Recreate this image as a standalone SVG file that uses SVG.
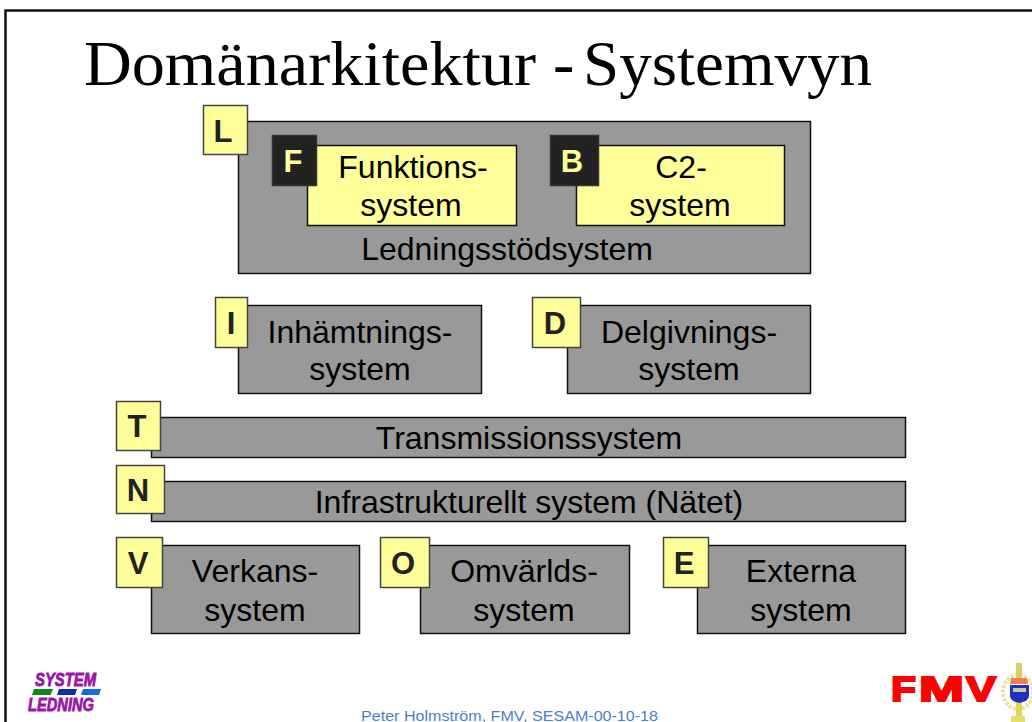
<svg xmlns="http://www.w3.org/2000/svg" width="1032" height="722" viewBox="0 0 1032 722">
<style>
.box{fill:#999;stroke:#111;stroke-width:1.5}
.yel{fill:#ffff99;stroke:#111;stroke-width:1.5}
.tag{fill:#ffff99;stroke:#444;stroke-width:1.5}
.dark{fill:#222;stroke:#333;stroke-width:1.5}
text{font-family:"Liberation Sans",Arial,sans-serif}
.t{font-size:32px;fill:#000;text-anchor:middle}
.k{font-size:31px;font-weight:bold;fill:#222;text-anchor:middle}
.kl{font-size:31px;font-weight:bold;fill:#ffff99;text-anchor:middle}
.logo{font-size:18px;font-weight:bold;font-style:italic;fill:#9a14a8;stroke:#9a14a8;stroke-width:.8}
</style>
<rect width="1032" height="722" fill="#fff"/>
<path d="M5.500 722V10.500H1032" fill="none" stroke="#111" stroke-width="2.500"/>
<text id="title" y="85" style="font-family:'Liberation Serif','Times New Roman',serif;font-size:64px"><tspan x="84" textLength="452" lengthAdjust="spacingAndGlyphs">Domänarkitektur</tspan> <tspan x="553">-</tspan> <tspan x="583" textLength="289" lengthAdjust="spacingAndGlyphs">Systemvyn</tspan></text>
<g id="node-L">
<rect class="box" x="238.500" y="121.500" width="572" height="152"/>
<text class="t" x="507" y="260">Ledningsstödsystem</text>
<rect class="tag" x="203.500" y="105.500" width="44" height="49"/>
<text class="k" x="223" y="142">L</text>
</g>
<g id="node-F">
<rect class="yel" x="307.500" y="145.500" width="209" height="80"/>
<text class="t" x="413" y="178">Funktions-</text>
<text class="t" x="411" y="216">system</text>
<rect class="dark" x="272.500" y="135.500" width="44" height="50"/>
<text class="kl" x="293" y="172">F</text>
</g>
<g id="node-B">
<rect class="yel" x="576.500" y="145.500" width="208" height="80"/>
<text class="t" x="681" y="178">C2-</text>
<text class="t" x="680" y="216">system</text>
<rect class="dark" x="550.500" y="135.500" width="48" height="50"/>
<text class="kl" x="572" y="172">B</text>
</g>
<g id="node-I">
<rect class="box" x="238.500" y="305.500" width="243" height="88"/>
<text class="t" x="360" y="343">Inhämtnings-</text>
<text class="t" x="360" y="380">system</text>
<rect class="tag" x="215.500" y="297.500" width="32" height="50"/>
<text class="k" x="231" y="334">I</text>
</g>
<g id="node-D">
<rect class="box" x="567.500" y="305.500" width="243" height="88"/>
<text class="t" x="689" y="343">Delgivnings-</text>
<text class="t" x="689" y="380">system</text>
<rect class="tag" x="532.500" y="297.500" width="48" height="50"/>
<text class="k" x="555" y="334">D</text>
</g>
<g id="node-T">
<rect class="box" x="151.500" y="417.500" width="754" height="40"/>
<text class="t" x="529" y="449">Transmissionssystem</text>
<rect class="tag" x="116.500" y="401.500" width="44" height="49"/>
<text class="k" x="137" y="437">T</text>
</g>
<g id="node-N">
<rect class="box" x="151.500" y="481.500" width="754" height="40"/>
<text class="t" x="529" y="513">Infrastrukturellt system (Nätet)</text>
<rect class="tag" x="116.500" y="465.500" width="48" height="48"/>
<text class="k" x="138" y="501">N</text>
</g>
<g id="node-V">
<rect class="box" x="151.500" y="545.500" width="208" height="88"/>
<text class="t" x="255" y="582">Verkans-</text>
<text class="t" x="255" y="621">system</text>
<rect class="tag" x="116.500" y="537.500" width="46" height="50"/>
<text class="k" x="138" y="574">V</text>
</g>
<g id="node-O">
<rect class="box" x="420.500" y="545.500" width="209" height="88"/>
<text class="t" x="524" y="582">Omvärlds-</text>
<text class="t" x="524" y="621">system</text>
<rect class="tag" x="380.500" y="537.500" width="49" height="50"/>
<text class="k" x="403" y="574">O</text>
</g>
<g id="node-E">
<rect class="box" x="697.500" y="545.500" width="208" height="88"/>
<text class="t" x="801" y="582">Externa</text>
<text class="t" x="801" y="621">system</text>
<rect class="tag" x="663.500" y="537.500" width="45" height="50"/>
<text class="k" x="684" y="574">E</text>
</g>
<g id="connectors"/>
<g id="logo-system">
<text class="logo" x="35" y="686" textLength="61" lengthAdjust="spacingAndGlyphs">SYSTEM</text>
<path d="M34 689H53L50.500 695H32z" fill="#0a8a14"/>
<path d="M59 689H77L75 695H57z" fill="#0a2fa8"/>
<path d="M83 689H101L99 695H81z" fill="#0a70dc"/>
<text class="logo" x="28" y="711" textLength="66" lengthAdjust="spacingAndGlyphs">LEDNING</text>
</g>
<text id="footer" x="361" y="721" style="font-size:14px;fill:#4a7fc8" textLength="297" lengthAdjust="spacingAndGlyphs">Peter Holmström, FMV, SESAM-00-10-18</text>
<g id="logo-fmv">
<text y="701" style="font-size:35px;font-weight:bold;fill:#f00;stroke:#f00;stroke-width:2"><tspan x="891" textLength="25" lengthAdjust="spacingAndGlyphs">F</tspan><tspan x="919" textLength="45" lengthAdjust="spacingAndGlyphs">M</tspan><tspan x="966" textLength="30" lengthAdjust="spacingAndGlyphs">V</tspan></text>
<ellipse cx="1018" cy="692" rx="15" ry="17" fill="none" stroke="#e8e4a0" stroke-width="4" stroke-dasharray="3 1.500"/>
<rect x="1016" y="663" width="6" height="15" fill="#d8d060"/>
<rect x="1016" y="702" width="6" height="16" fill="#dcd850"/>
<rect x="1011" y="716" width="14" height="6" fill="#e4e070"/>
<path d="M1011 678h16l1 6h-18z" fill="#f08050"/>
<path d="M1010 685h19v11q0 5-9.500 7-9.500-2-9.500-7z" fill="#2030c0"/>
<rect x="1013" y="688" width="13" height="4" fill="#c8c890"/>
</g>
</svg>
